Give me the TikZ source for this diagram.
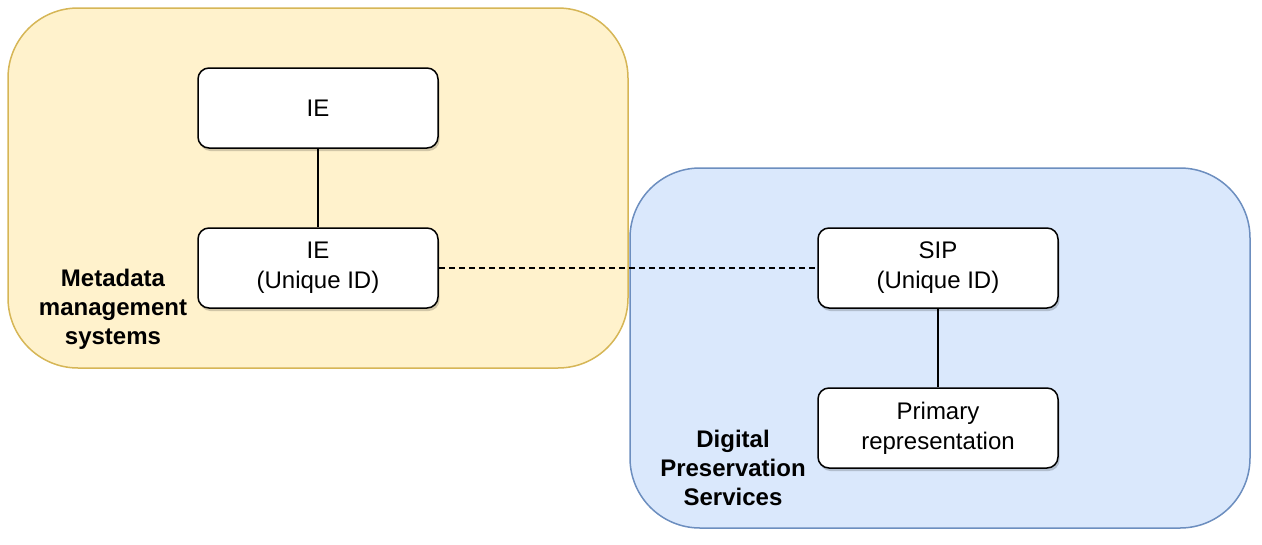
\documentclass[tikz,border=0pt]{standalone}
\usepackage{fontspec}
\setmainfont{Liberation Sans}
\usetikzlibrary{shadows}
\definecolor{yfill}{HTML}{FFF2CC}
\definecolor{ydraw}{HTML}{D6B656}
\definecolor{bfill}{HTML}{DAE8FC}
\definecolor{bdraw}{HTML}{6C8EBF}
\begin{document}
\begin{tikzpicture}[x=1pt,y=-1pt,
  region/.style={rounded corners=70pt, line width=1.5pt},
  entity/.style={draw=black, fill=white, line width=1.5pt, rounded corners=11pt,
    minimum width=240pt, minimum height=80pt, align=center, font=\fontsize{24}{30}\selectfont,
    drop shadow={shadow xshift=1.5pt, shadow yshift=-3pt, opacity=0.18, fill=black}},
  regionlabel/.style={align=center, font=\bfseries\fontsize{24}{29}\selectfont},
  link/.style={line width=1.5pt}]
\useasboundingbox (0,0) rectangle (1262,544);
\draw[region, fill=yfill, draw=ydraw] (8,8) rectangle (628,368);
\draw[region, fill=bfill, draw=bdraw] (630,168) rectangle (1250,528);
\node[entity] (ie) at (318,108) {IE};
\node[entity] (ieid) at (318,268) {IE\\(Unique ID)};
\node[entity] (sip) at (938,268) {SIP\\(Unique ID)};
\node[entity] (prim) at (938,428) {Primary\\representation};
\node[regionlabel] (mms) at (113,309) {Metadata\\management\\systems};
\node[regionlabel] (dps) at (733,468) {Digital\\Preservation\\Services};
\draw[link] (ie) -- (ieid);
\draw[link] (sip) -- (prim);
\draw[link, dash pattern=on 6pt off 4pt] (ieid) -- (sip);
\end{tikzpicture}
\end{document}
